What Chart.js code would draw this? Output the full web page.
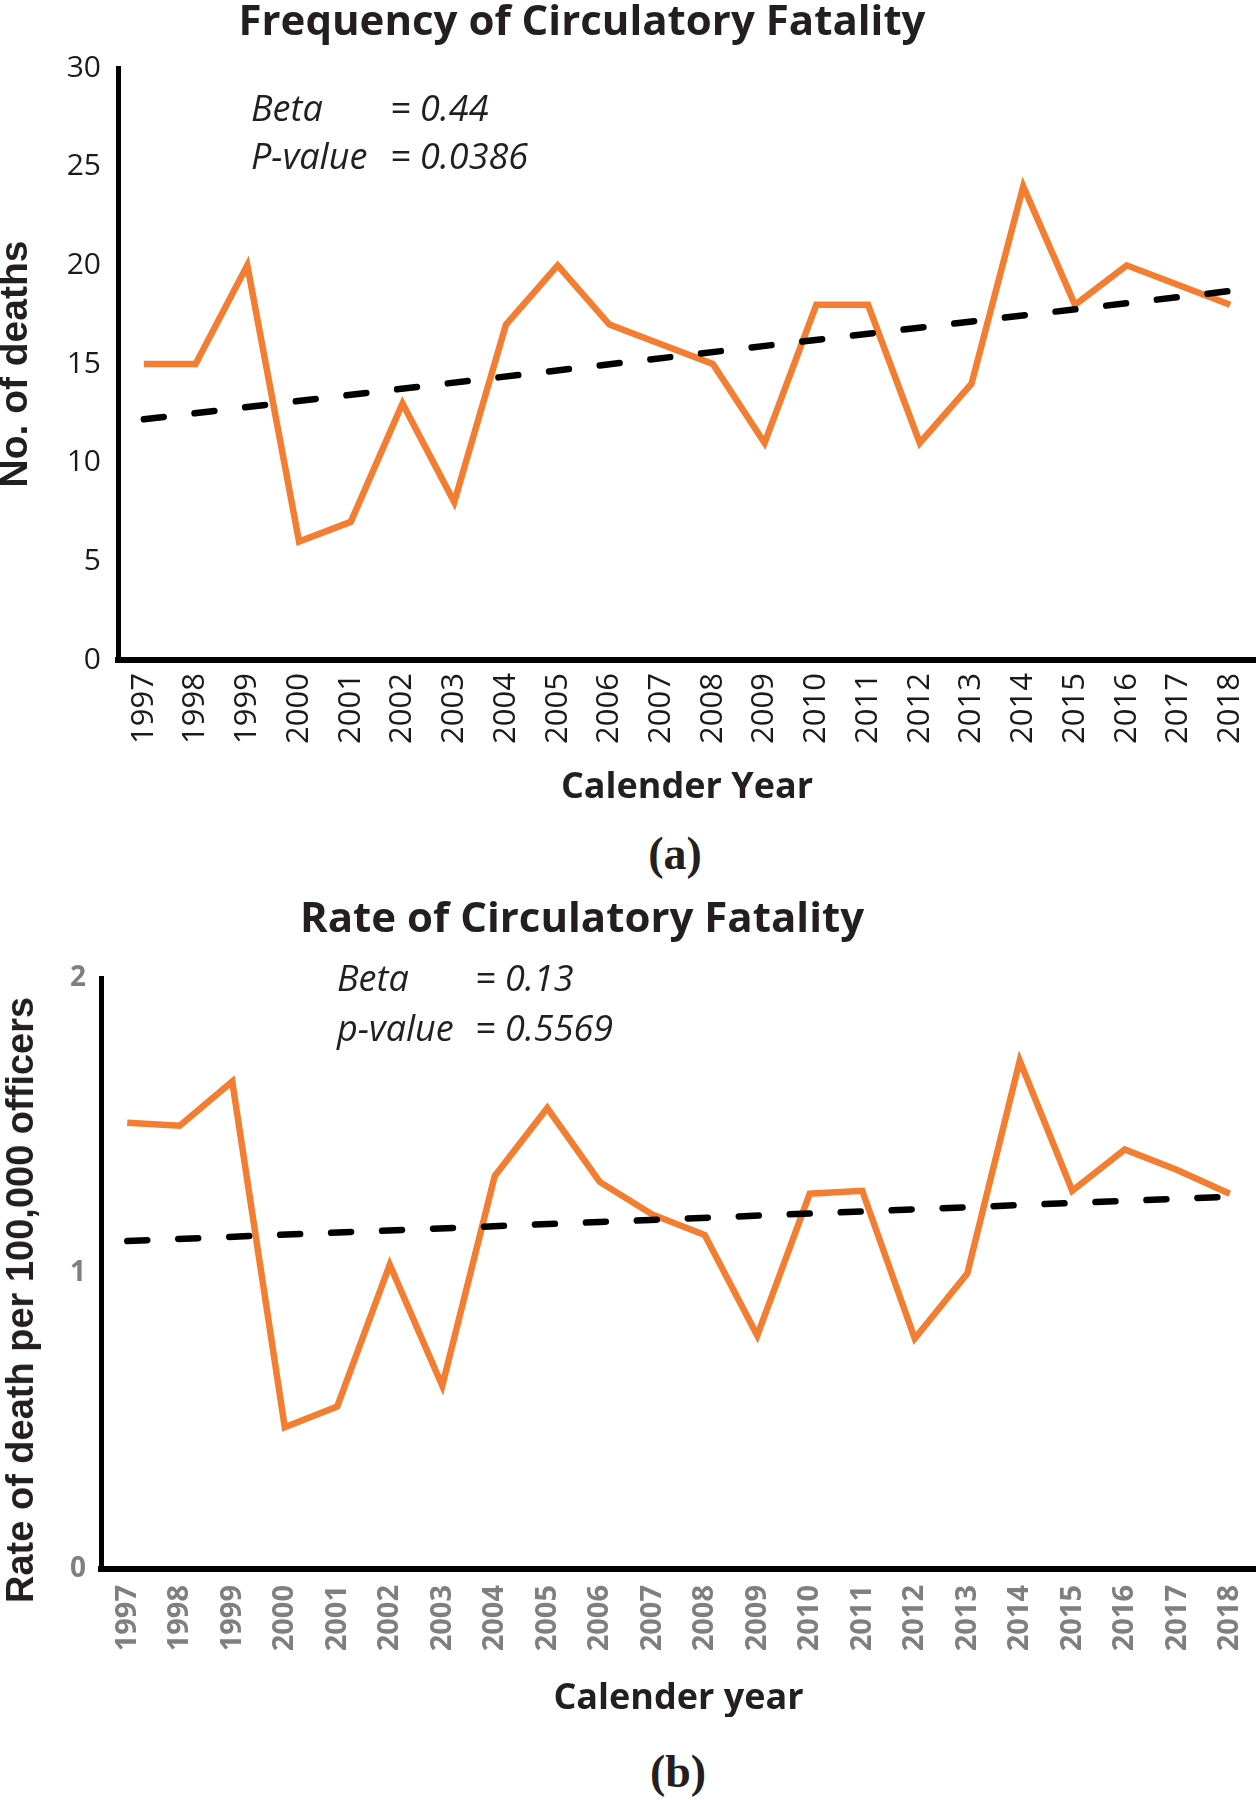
<!DOCTYPE html>
<html>
<head>
<meta charset="utf-8">
<title>Circulatory Fatality</title>
<script src="https://cdn.jsdelivr.net/npm/chart.js"></script>
<style>
    body { margin: 0; background: #fff; }
    #page { position: relative; width: 1256px; height: 1800px; overflow: hidden; }
    .chart-box { position: absolute; left: 0; width: 1256px; }
    .title { position: absolute; font: bold 42px 'Open Sans', sans-serif; color: #231f20; line-height: 1; white-space: nowrap; transform: translateX(-50%); }
    .stat { position: absolute; font: italic 36px 'Open Sans', sans-serif; color: #231f20; line-height: 1; white-space: nowrap; }
    .panel { position: absolute; font: bold 46px 'Liberation Serif', serif; color: #231f20; line-height: 1; white-space: nowrap; transform: translateX(-50%); }
    .ytitle { position: absolute; font: bold 38px 'Liberation Sans', sans-serif; color: #231f20; line-height: 1; white-space: nowrap; transform: translate(-50%, -50%) rotate(-90deg); }
</style>
</head>
<body>
<div id="page">
    <div class="chart-box" style="top:0;height:806px"><canvas id="deathsChart"></canvas></div>
    <div class="chart-box" style="top:880px;height:837px"><canvas id="ratesChart"></canvas></div>

    <div class="title" style="left:582px;top:-2px">Frequency of Circulatory Fatality</div>
    <div class="stat" style="left:251px;top:90px">Beta</div>
    <div class="stat" style="left:390px;top:90px">= 0.44</div>
    <div class="stat" style="left:251px;top:138px">P-value</div>
    <div class="stat" style="left:390px;top:138px">= 0.0386</div>
    <div class="panel" style="left:675px;top:831px">(a)</div>

    <div class="title" style="left:582px;top:895px">Rate of Circulatory Fatality</div>
    <div class="stat" style="left:337px;top:960px">Beta</div>
    <div class="stat" style="left:475px;top:960px">= 0.13</div>
    <div class="stat" style="left:337px;top:1010px">p-value</div>
    <div class="stat" style="left:475px;top:1010px">= 0.5569</div>
    <div class="ytitle" style="left:20px;top:1300px">Rate of death per 100,000 officers</div>
    <div class="panel" style="left:678px;top:1749px">(b)</div>
</div>

<script>
// Calendar years on the x axis
const years = ['1997', '1998', '1999', '2000', '2001', '2002', '2003', '2004', '2005', '2006', '2007',
    '2008', '2009', '2010', '2011', '2012', '2013', '2014', '2015', '2016', '2017', '2018'];

// (a) number of deaths per year, and trend line ends (1997, 2018)
const deaths = [15, 15, 20, 6, 7, 13, 8, 17, 20, 17, 16, 15, 11, 18, 18, 11, 14, 24, 18, 20, 19, 18];
const deathsTrend = [12.2, 18.7];
const deathTicks = [0, 5, 10, 15, 20, 25, 30];

// (b) rate of death per 100,000 officers, and trend line ends (1997, 2018)
const rates = [1.51, 1.50, 1.65, 0.48, 0.55, 1.03, 0.62, 1.33, 1.56, 1.31, 1.20,
    1.13, 0.79, 1.27, 1.28, 0.78, 1.00, 1.72, 1.28, 1.42, 1.35, 1.27];
const ratesTrend = [1.11, 1.26];
const rateTicks = [0, 1, 2];

Chart.defaults.font.family = "'Open Sans', sans-serif";
Chart.defaults.animation = false;

document.addEventListener('DOMContentLoaded', () => {
    buildChart('deathsChart', {
        values: deaths,
        trend: deathsTrend,
        ticks: deathTicks,
        top: 68,
        yWidth: 118,
        xHeight: 146,
        yPad: 17,
        xPad: 13,
        tickColor: '#1a1a1a',
        xTickFont: { size: 31, weight: 'normal' },
        yTickFont: { size: 30, weight: 'normal' },
        xTitle: 'Calender Year',
        yTitle: 'No. of deaths',
        yTitleFont: { family: "'Liberation Sans', sans-serif", size: 39, weight: 'bold', lineHeight: 0.85 }
    });

    // y title of (b) is placed as page text, it sits lower than the plot centre
    buildChart('ratesChart', {
        values: rates,
        trend: ratesTrend,
        ticks: rateTicks,
        top: 98,
        yWidth: 101,
        xHeight: 148,
        yPad: 15,
        xPad: 16,
        tickColor: '#7f7f7f',
        xTickFont: { size: 29, weight: 'bold' },
        yTickFont: { size: 28, weight: 'bold' },
        xTitle: 'Calender year',
        yTitle: ''
    });
});

function trendPoints(trend) {
    return [
        { x: years[0], y: trend[0] },
        { x: years[years.length - 1], y: trend[1] }
    ];
}

function buildChart(canvasId, opts) {
    const ctx = document.getElementById(canvasId).getContext('2d');
    return new Chart(ctx, {
        type: 'line',
        data: {
            labels: years,
            datasets: [{
                label: 'Trend',
                data: trendPoints(opts.trend),
                borderColor: '#000',
                borderWidth: 6.5,
                borderDash: [20, 31],
                borderCapStyle: 'round',
                pointRadius: 0,
                fill: false
            }, {
                label: 'Observed',
                data: opts.values,
                borderColor: '#f37e32',
                borderWidth: 6.5,
                borderJoinStyle: 'miter',
                pointRadius: 0,
                tension: 0,
                fill: false
            }]
        },
        options: {
            responsive: true,
            maintainAspectRatio: false,
            layout: { padding: { top: opts.top, left: 0, right: 0, bottom: 0 } },
            plugins: {
                legend: { display: false },
                tooltip: { enabled: false },
                title: { display: false }
            },
            scales: {
                x: {
                    type: 'category',
                    offset: true,
                    grid: { display: false, drawTicks: false },
                    border: { display: true, color: '#000', width: 6 },
                    ticks: {
                        autoSkip: false,
                        minRotation: 90,
                        maxRotation: 90,
                        padding: opts.xPad,
                        color: opts.tickColor,
                        font: opts.xTickFont
                    },
                    title: {
                        display: true,
                        text: opts.xTitle,
                        color: '#231f20',
                        padding: 0,
                        font: { size: 36, weight: 'bold', lineHeight: 1 }
                    },
                    afterFit: scale => {
                        scale.height = opts.xHeight;
                        scale.paddingLeft = 0;
                        scale.paddingRight = 0;
                    }
                },
                y: {
                    min: opts.ticks[0],
                    max: opts.ticks[opts.ticks.length - 1],
                    afterBuildTicks: axis => {
                        axis.ticks = opts.ticks.map(v => ({ value: v }));
                    },
                    grid: { display: false, drawTicks: false },
                    border: { display: true, color: '#000', width: 5 },
                    ticks: {
                        padding: opts.yPad,
                        color: opts.tickColor,
                        font: opts.yTickFont
                    },
                    title: {
                        display: !!opts.yTitle,
                        text: opts.yTitle,
                        color: '#231f20',
                        padding: 0,
                        font: opts.yTitleFont
                    },
                    afterFit: scale => {
                        scale.width = opts.yWidth;
                        scale.paddingTop = 0;
                        scale.paddingBottom = 0;
                    }
                }
            }
        }
    });
}
</script>
</body>
</html>
